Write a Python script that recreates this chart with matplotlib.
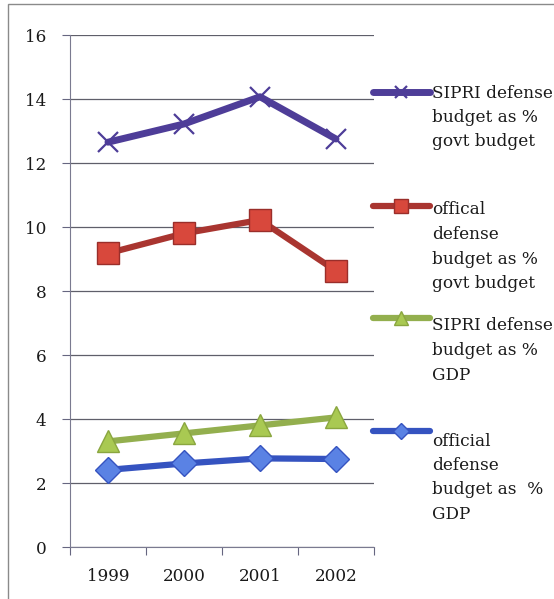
import matplotlib
matplotlib.use("Agg")
import matplotlib.pyplot as plt
from matplotlib.lines import Line2D
from matplotlib.patches import Rectangle

years = ["1999", "2000", "2001", "2002"]
sipri_govt = [12.65, 13.22, 14.07, 12.75]
official_govt = [9.18, 9.80, 10.22, 8.63]
sipri_gdp = [3.30, 3.55, 3.80, 4.05]
official_gdp = [2.41, 2.61, 2.77, 2.75]

labels = [
    ["SIPRI defense", "budget as %", "govt budget"],
    ["offical", "defense", "budget as %", "govt budget"],
    ["SIPRI defense", "budget as %", "GDP"],
    ["official", "defense", "budget as  %", "GDP"],
]

W, H = 554, 599
fig = plt.figure(figsize=(W / 100, H / 100), dpi=100)
font = "DejaVu Serif"
fs = 12.2
tcol = "#1a1a1a"

ax = fig.add_axes([70 / W, 1 - 547 / H, (374 - 70) / W, (547 - 35) / H])

x = [0.5, 1.5, 2.5, 3.5]
styles = [
    dict(data=sipri_govt, color="#4E3D98", lw=5.0, marker="x", ms=14, mfc="#4E3D98",
         mec="#4E3D98", mew=1.6),
    dict(data=official_govt, color="#A93530", lw=4.5, marker="s", ms=16, mfc="#D8483C",
         mec="#9A2E2A", mew=1.0),
    dict(data=sipri_gdp, color="#93AF4E", lw=4.5, marker="^", ms=16, mfc="#A9C952",
         mec="#8AA63F", mew=1.0),
    dict(data=official_gdp, color="#3553C0", lw=4.5, marker="D", ms=13, mfc="#5A82E4",
         mec="#3553C0", mew=1.0),
]
for s in styles:
    ax.plot(x, s["data"], color=s["color"], lw=s["lw"], marker=s["marker"],
            ms=s["ms"], mfc=s["mfc"], mec=s["mec"], mew=s["mew"], zorder=3,
            solid_capstyle="round")

ax.set_xlim(0, 4)
ax.set_ylim(0, 16)
ax.set_yticks(range(0, 17, 2))
ax.set_yticklabels([str(v) for v in range(0, 17, 2)], fontfamily=font, fontsize=fs,
                   color=tcol)
ax.set_xticks([0, 1, 2, 3, 4])
ax.set_xticklabels([])
ax.set_xticks(x, minor=True)
ax.set_xticklabels(years, minor=True, fontfamily=font, fontsize=fs, color=tcol)
ax.tick_params(axis="x", which="minor", length=0, pad=15)
ax.tick_params(axis="x", which="major", length=6, color="#666680", direction="out")
ax.tick_params(axis="y", length=6, color="#666680", direction="out", pad=11)
ax.yaxis.grid(True, color="#5f5f6a", lw=0.9)
ax.set_axisbelow(True)
for side in ["top", "right"]:
    ax.spines[side].set_visible(False)
ax.spines["left"].set_color("#7a7a90")
ax.spines["bottom"].set_color("#7a7a90")

# legend, drawn manually
first_y = [93, 210, 326, 441]
handle_y = [92, 206, 318, 431]
line_gap = 24.5
for s, lab, fy, hy in zip(styles, labels, first_y, handle_y):
    yy = 1 - hy / H
    fig.add_artist(Line2D([373 / W, 430 / W], [yy, yy], color=s["color"], lw=s["lw"],
                          solid_capstyle="round", transform=fig.transFigure))
    fig.add_artist(Line2D([401 / W], [yy], marker=s["marker"], ms=s["ms"] * 0.6,
                          mfc=s["mfc"], mec=s["mec"], mew=s["mew"], lw=0,
                          transform=fig.transFigure))
    for i, t in enumerate(lab):
        fig.text(432 / W, 1 - (fy + i * line_gap) / H, t, fontfamily=font,
                 fontsize=fs, va="center", ha="left", color=tcol)

fig.add_artist(Rectangle((8 / W, -0.1), 1.2, 1 - 4 / H + 0.1, fill=False,
                         ec="#8a8a8a", lw=1.0, transform=fig.transFigure))

fig.savefig("out.png", dpi=100)
